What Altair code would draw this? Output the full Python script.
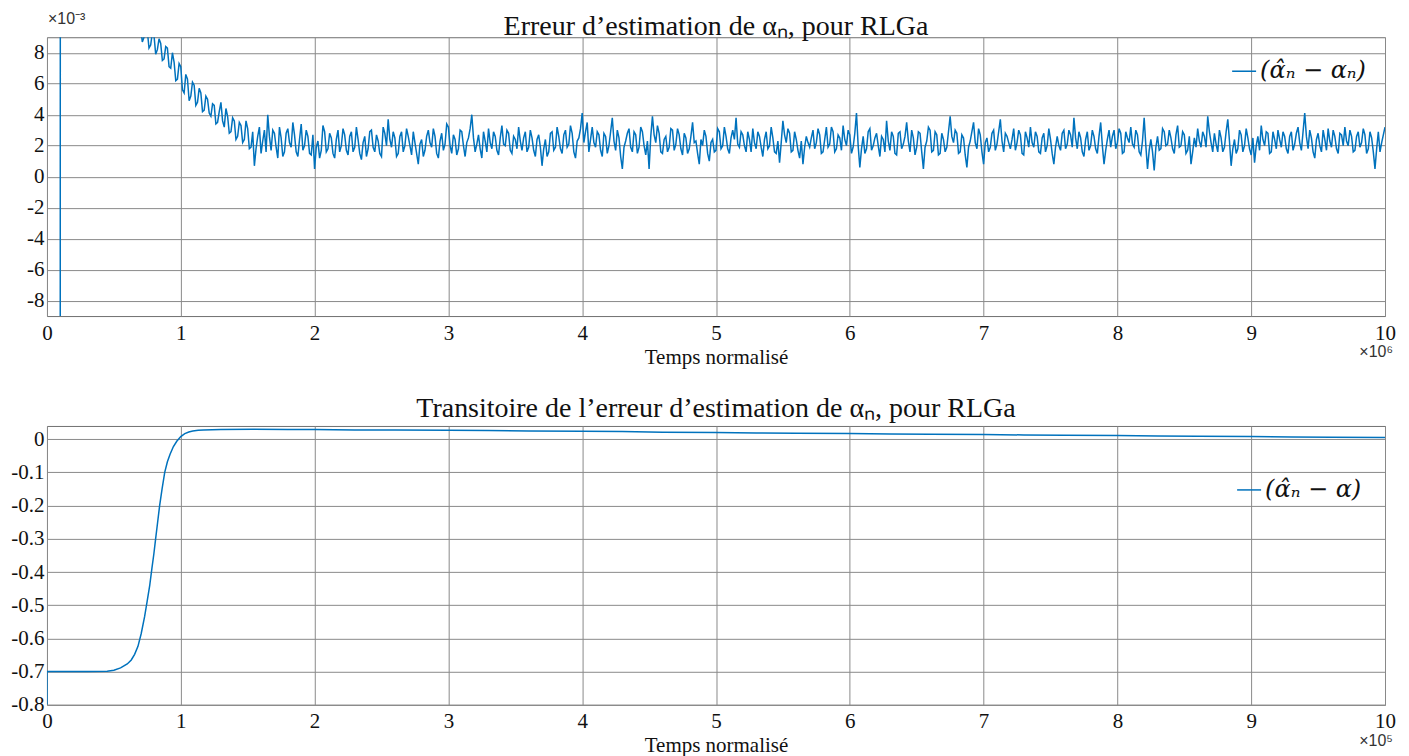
import altair as alt
import pandas as pd

# ---------------- data ----------------
# Top panel: estimation error, x in units of 1e6, y in units of 1e-3
TOP_HEAD_X = [0.0, 0.085, 0.1, 0.2, 0.3, 0.4, 0.5, 0.6, 0.65]
TOP_HEAD_Y = [-700.0, -700.0, 30.0, 28.0, 25.0, 21.0, 17.0, 13.0, 11.0]

TOP_NOISE_START = 0.7
TOP_NOISE_STEP = 0.025
# samples on the 0.025 grid
TOP_NOISE_Y = [
    9.6, 9.0, 9.4, 8.5, 9.1, 8.2, 8.6, 7.6, 8.3, 7.0, 7.4, 6.3, 7.1, 5.4, 6.3, 5.2, 5.9, 4.8, 5.4, 4.3,
    5.0, 3.9, 4.6, 3.5, 4.8, 3.2, 3.9, 2.9, 3.6, 2.6, 3.3, 2.4, 3.1, 1.9, 0.7, 2.6, 1.5, 3.0, 4.0, 1.7,
    2.8, 1.2, 2.5, 1.6, 3.1, 1.9, 2.7, 1.3, 3.4, 2.0, 2.6, 1.4, 0.5, 2.3, 1.7, 2.9, 1.8, 2.5, 1.2, 3.0,
    2.0, 2.7, 1.4, 2.9, 1.9, 2.4, 1.1, 2.6, 1.8, 3.0, 1.6, 2.3, 1.3, 2.8, 3.7, 1.9, 2.5, 1.5, 2.9, 2.0,
    2.6, 1.4, 2.2, 0.8, 2.4, 1.7, 3.0, 1.9, 2.6, 1.2, 2.8, 2.1, 3.2, 1.5, 2.4, 1.8, 2.9, 1.3, 2.5, 4.0,
    1.6, 2.7, 1.2, 2.3, 3.1, 1.8, 2.6, 1.4, 3.3, 2.0, 2.8, 1.5, 2.4, 3.2, 1.7, 2.9, 1.9, 2.5, 1.3, 2.7,
    0.7, 2.4, 1.6, 2.9, 1.9, 2.6, 1.5, 3.0, 2.1, 2.8, 1.2, 2.5, 4.1, 2.9, 1.6, 3.2, 1.9, 2.7, 1.3, 2.6,
    2.0, 3.8, 1.7, 2.5, 0.5, 2.3, 3.1, 1.6, 2.7, 1.9, 2.9, 1.4, 0.5, 3.9, 2.2, 2.8, 1.5, 2.6, 1.9, 3.0,
    2.1, 2.7, 1.4, 2.5, 1.8, 3.5, 2.3, 0.8, 2.0, 2.6, 1.0, 2.4, 1.7, 2.9, 2.0, 2.6, 1.5, 3.0, 3.8, 1.9,
    2.7, 1.6, 2.4, 3.1, 1.8, 2.6, 1.3, 2.9, 2.0, 2.5, 1.5, 0.9, 3.6, 2.2, 2.8, 1.7, 2.4, 1.2, 0.8, 2.6,
    1.9, 3.0, 2.2, 2.7, 1.6, 3.2, 2.1, 2.9, 1.8, 2.5, 3.3, 2.0, 2.7, 1.9, 4.1, 0.6, 2.6, 1.8, 3.1, 2.0,
    2.8, 1.3, 2.4, 3.6, 1.7, 2.6, 1.4, 2.9, 2.1, 3.5, 1.6, 2.5, 1.9, 2.8, 0.5, 2.3, 3.0, 1.7, 2.7, 1.5,
    2.4, 1.9, 3.9, 2.2, 2.8, 1.6, 2.5, 0.6, 2.3, 3.5, 1.8, 2.7, 0.8, 2.5, 1.9, 3.0, 2.1, 3.7, 1.6, 2.6,
    1.8, 3.1, 2.2, 2.7, 1.4, 2.5, 3.2, 1.9, 2.6, 1.5, 2.8, 2.0, 2.4, 0.8, 2.6, 1.7, 3.0, 2.1, 2.7, 3.8,
    1.8, 2.5, 1.3, 2.9, 2.0, 2.6, 1.5, 3.5, 0.8, 2.4, 1.9, 3.0, 2.2, 2.8, 1.6, 2.5, 3.2, 1.9, 2.7, 1.4,
    3.8, 0.5, 2.4, 0.4, 2.6, 1.8, 2.9, 2.1, 2.5, 1.5, 3.3, 2.0, 2.7, 1.7, 0.8, 2.5, 3.1, 1.9, 2.6, 3.9,
    2.2, 2.8, 1.6, 2.5, 1.9, 3.7, 0.7, 2.4, 1.8, 2.7, 2.0, 2.5, 1.4, 0.9, 2.6, 3.3, 2.0, 2.8, 1.6, 2.4,
    3.0, 1.9, 2.6, 1.5, 2.9, 2.1, 3.2, 1.7, 4.1, 1.8, 2.5, 1.2, 2.8, 1.6, 2.4, 3.1, 1.9, 2.6, 1.5, 2.7,
    3.2, 2.0, 2.6, 1.7, 2.9, 2.2, 2.7, 1.8, 2.5, 0.5, 2.9, 2.2, 3.2,
]
# samples half-way between the grid points above
TOP_NOISE_MID = [
    8.7, 9.8, 8.3, 9.3, 7.9, 8.9, 7.5, 8.4, 7.1, 8.0, 6.2, 7.3, 5.6, 6.6, 4.9, 6.1, 4.6, 5.7, 4.2, 5.2,
    4.1, 4.7, 3.4, 4.2, 3.6, 4.4, 2.8, 3.8, 2.4, 3.5, 2.2, 3.6, 1.8, 2.9, 1.8, 3.2, 2.3, 1.6, 2.6, 3.0,
    1.9, 3.2, 1.3, 2.8, 2.2, 3.5, 1.6, 2.4, 1.7, 3.0, 1.5, 2.7, 1.9, 1.2, 3.3, 1.6, 2.8, 1.5, 2.4, 1.6,
    3.1, 1.7, 2.6, 1.6, 3.2, 1.5, 2.2, 1.3, 2.9, 1.9, 2.7, 1.5, 3.2, 2.0, 2.4, 2.9, 1.3, 2.6, 1.6, 3.1,
    2.0, 2.9, 1.5, 2.1, 1.3, 2.6, 2.2, 3.1, 1.5, 2.3, 1.7, 3.4, 2.0, 2.7, 1.4, 3.0, 2.0, 2.2, 3.1, 2.5,
    2.1, 1.8, 2.9, 1.6, 2.2, 2.9, 1.7, 2.5, 2.1, 3.0, 1.7, 2.6, 1.8, 2.3, 2.5, 1.6, 3.0, 1.7, 2.4, 1.9,
    1.8, 1.3, 2.8, 1.7, 3.2, 1.8, 2.7, 1.9, 3.3, 1.6, 2.3, 3.1, 2.2, 3.5, 2.4, 2.2, 2.9, 1.7, 2.8, 1.5,
    2.9, 2.3, 3.0, 1.3, 1.9, 2.8, 1.9, 2.9, 1.5, 3.2, 2.0, 2.3, 2.6, 2.7, 3.3, 1.6, 2.4, 1.6, 3.1, 1.7,
    3.1, 1.8, 2.8, 1.5, 2.6, 2.2, 1.5, 2.4, 3.0, 1.5, 2.2, 1.6, 3.1, 1.8, 3.2, 1.8, 2.5, 2.4, 2.1, 2.9,
    2.0, 2.9, 1.6, 2.2, 2.9, 1.9, 2.4, 1.8, 3.2, 1.6, 2.3, 2.2, 2.7, 3.1, 1.6, 2.9, 1.7, 2.3, 1.9, 2.2,
    2.5, 1.8, 3.1, 1.5, 2.4, 1.9, 3.2, 1.6, 2.7, 1.7, 2.4, 3.0, 1.5, 2.8, 2.0, 1.8, 1.5, 2.9, 1.7, 2.5,
    2.0, 2.6, 1.6, 2.3, 2.9, 1.5, 2.8, 1.8, 2.6, 2.3, 3.0, 1.4, 2.9, 1.6, 1.9, 3.2, 1.6, 2.9, 1.4, 2.8,
    1.6, 2.9, 2.6, 3.0, 1.5, 2.7, 1.4, 1.9, 2.9, 2.2, 3.1, 1.6, 2.2, 1.6, 2.8, 1.7, 2.9, 2.3, 2.8, 2.2,
    2.4, 1.7, 3.0, 1.5, 2.9, 1.9, 2.2, 2.9, 1.6, 2.5, 1.6, 3.1, 1.5, 1.9, 2.0, 2.8, 1.8, 3.0, 1.9, 2.5,
    2.9, 1.6, 2.4, 1.7, 3.0, 1.8, 2.6, 2.0, 1.7, 3.0, 2.6, 1.8, 3.1, 1.5, 2.9, 2.2, 2.1, 3.0, 1.6, 2.3,
    2.0, 1.7, 1.6, 1.9, 1.7, 3.1, 2.0, 3.0, 1.8, 2.7, 1.9, 2.9, 1.5, 2.6, 1.6, 1.9, 2.3, 2.9, 1.9, 2.9,
    1.6, 2.1, 3.0, 1.6, 2.9, 2.3, 1.8, 1.5, 3.0, 1.6, 3.1, 1.8, 2.5, 2.0, 1.7, 2.4, 2.9, 1.5, 2.9, 1.8,
    2.4, 2.9, 1.8, 2.6, 1.7, 2.8, 2.2, 2.9, 2.6, 3.0, 1.6, 2.4, 2.0, 3.0, 1.7, 2.3, 3.0, 1.8, 2.8, 2.0,
    2.3, 3.0, 1.6, 2.6, 1.9, 3.1, 1.5, 2.9, 1.6, 1.8, 1.6, 2.7,
]

# Bottom panel: transient, x in units of 1e5
BOT_X = [0.0, 0.0, 0.1, 0.3, 0.45, 0.5, 0.55, 0.6, 0.63, 0.655, 0.68, 0.704, 0.73, 0.748, 0.768,
         0.784, 0.799, 0.812, 0.827, 0.842, 0.86, 0.88, 0.9, 0.92, 0.945, 0.97, 1.0, 1.03, 1.06,
         1.09, 1.13, 1.17, 1.3, 1.54, 1.8, 2.0, 2.3, 2.6, 3.0, 3.3, 3.6, 4.0, 4.3, 4.6, 5.0, 5.3,
         5.6, 6.0, 6.3, 6.6, 7.0, 7.3, 7.6, 8.0, 8.3, 8.6, 9.0, 9.3, 9.6, 10.0]
BOT_Y = [-0.8, -0.7, -0.7, -0.7, -0.699, -0.696, -0.689, -0.677, -0.665, -0.648, -0.624, -0.586,
         -0.534, -0.490, -0.440, -0.39, -0.345, -0.30, -0.25, -0.20, -0.15, -0.10, -0.068,
         -0.045, -0.022, -0.006, 0.008, 0.017, 0.022, 0.025, 0.027, 0.028, 0.029, 0.030, 0.029,
         0.029, 0.028, 0.028, 0.027, 0.026, 0.025, 0.024, 0.023, 0.021, 0.020, 0.019, 0.018,
         0.017, 0.016, 0.015, 0.014, 0.013, 0.012, 0.011, 0.010, 0.009, 0.008, 0.007, 0.006, 0.005]

X_TICKS = [0, 1, 2, 3, 4, 5, 6, 7, 8, 9, 10]
TOP_Y_TICKS = [-8, -6, -4, -2, 0, 2, 4, 6, 8]
BOT_Y_TICKS = [-0.8, -0.7, -0.6, -0.5, -0.4, -0.3, -0.2, -0.1, 0.0]

TOP_TITLE = "Erreur d\u2019estimation de \u03b1\u2099, pour RLGa"
BOT_TITLE = "Transitoire de l\u2019erreur d\u2019estimation de \u03b1\u2099, pour RLGa"
TOP_LEGEND = "(\u03b1\u0302\u2099 \u2212 \u03b1\u2099)"
BOT_LEGEND = "(\u03b1\u0302\u2099 \u2212 \u03b1)"
X_TITLE = "Temps normalis\u00e9"

# ---------------- tables ----------------
top_x, top_y = list(TOP_HEAD_X), list(TOP_HEAD_Y)
for k, v in enumerate(TOP_NOISE_Y):
    top_x.append(TOP_NOISE_START + TOP_NOISE_STEP * k)
    top_y.append(v)
    if k < len(TOP_NOISE_MID):
        top_x.append(TOP_NOISE_START + TOP_NOISE_STEP * (k + 0.5))
        top_y.append(TOP_NOISE_MID[k])
top_df = pd.DataFrame({"x": top_x, "y": top_y, "i": range(len(top_x)), "serie": TOP_LEGEND})
bot_df = pd.DataFrame({"x": BOT_X, "y": BOT_Y, "i": range(len(BOT_X)), "serie": BOT_LEGEND})

FONT = "Liberation Serif"
BLUE = "#0072BD"
W, H = 1339, 279


def panel(df, ydomain, yticks, ylabel_expr, title, title_offset, legend_xy, exp_x, exp_y=None):
    line = alt.Chart(df).mark_line(clip=True, strokeWidth=1.5).encode(
        x=alt.X("x:Q", scale=alt.Scale(domain=[0, 10], nice=False),
                axis=alt.Axis(values=X_TICKS, title=X_TITLE, format="d", labelFlush=False,
                              labelFont=FONT, titleFont=FONT)),
        y=alt.Y("y:Q", scale=alt.Scale(domain=ydomain, nice=False, zero=False),
                axis=alt.Axis(values=yticks, title=None, labelExpr=ylabel_expr, labelFont=FONT)),
        color=alt.Color("serie:N", scale=alt.Scale(range=[BLUE]),
                        legend=alt.Legend(orient="none", legendX=legend_xy[0], legendY=legend_xy[1],
                                          title=None, symbolType="stroke", symbolSize=576,
                                          symbolStrokeWidth=1.5, labelFont="DejaVu Serif",
                                          labelFontSize=24, labelFontStyle="italic",
                                          labelColor="#111", labelOffset=3, padding=0)),
        order="i:Q",
    )
    layers = [line]
    ex = alt.Chart(pd.DataFrame({"t": [exp_x]})).mark_text(
        align="right", baseline="middle", font="Liberation Sans", fontSize=16, color="#333"
    ).encode(text="t:N", x=alt.value(W + 8), y=alt.value(H + 36))
    layers.append(ex)
    if exp_y is not None:
        ey = alt.Chart(pd.DataFrame({"t": [exp_y]})).mark_text(
            align="left", baseline="middle", font="Liberation Sans", fontSize=16, color="#333"
        ).encode(text="t:N", x=alt.value(1), y=alt.value(-18))
        layers.append(ey)
    return alt.layer(*layers).properties(
        width=W, height=H,
        title=alt.TitleParams(title, font=FONT, fontSize=28, fontWeight="normal",
                              color="#111", anchor="middle", offset=title_offset),
    )


top = panel(top_df, [-9, 9], TOP_Y_TICKS,
            "datum.value < 0 ? '-' + abs(datum.value) : '' + datum.value",
            TOP_TITLE, -30, (1185, 21), "\u00d710\u2076", "\u00d710\u207b\u00b3")
bot = panel(bot_df, [-0.8, 0.04], BOT_Y_TICKS,
            "datum.value == 0 ? '0' : '-' + format(abs(datum.value), '.1f')",
            BOT_TITLE, 3, (1190, 51), "\u00d710\u2075")

chart = alt.vconcat(top, bot, spacing=26).resolve_scale(color="independent").properties(
    padding={"left": 2, "top": 2, "right": 5, "bottom": 0}
).configure_axis(
    labelFont=FONT, labelFontSize=21, labelColor="#111",
    titleFont=FONT, titleFontSize=21, titleFontWeight="normal", titleColor="#111",
    ticks=False, domain=False, grid=True, gridColor="#8a8a8a", gridWidth=1, gridOpacity=1,
).configure_axisX(labelPadding=6, titlePadding=3).configure_axisY(
    labelPadding=3, minExtent=34, maxExtent=34
).configure_view(stroke="#6f6f6f", strokeWidth=1)

chart.save("out.html", embed_options={"renderer": "svg", "actions": False})
